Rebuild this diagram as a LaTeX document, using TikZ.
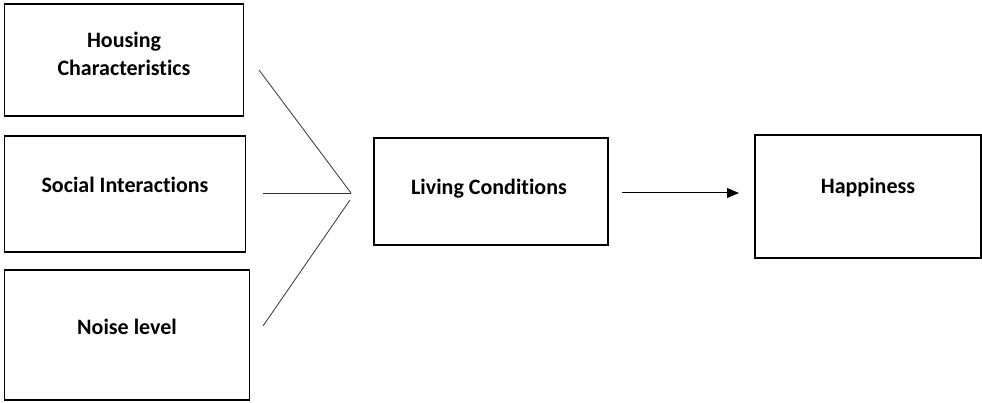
\documentclass[tikz,border=0pt]{standalone}
\usepackage{fontspec}
\setmainfont{Carlito}[Ligatures=CommonOff]
\usetikzlibrary{arrows.meta}
\begin{document}
\begin{tikzpicture}[x=1pt,y=-1pt,
  box/.style={draw, line width=1.8pt, inner sep=0pt},
  lbl/.style={font=\bfseries\fontsize{22}{28}\selectfont, align=center},
  conn/.style={line width=0.8pt, draw=black!80}]
\useasboundingbox (0,0) rectangle (982,403);
\node[box, minimum width=239pt, minimum height=112pt] (hc) at (124,60) {};
\node[box, minimum width=241pt, minimum height=116pt] (si) at (125,194) {};
\node[box, minimum width=245pt, minimum height=130pt] (nl) at (127,335) {};
\node[box, minimum width=234pt, minimum height=107pt] (lc) at (491,191.5) {};
\node[box, minimum width=226pt, minimum height=123pt] (hp) at (868,196.5) {};
\node[lbl] (t1) at (124,54) {Housing\\Characteristics};
\node[lbl] (t2) at (125,185) {Social Interactions};
\node[lbl] (t3) at (127,327) {Noise level};
\node[lbl] (t4) at (489,189) {Living Conditions};
\node[lbl] (t5) at (868,188) {Happiness};
\coordinate (a1) at (259,70);
\coordinate (j1) at (351,193);
\coordinate (a2) at (263,193);
\coordinate (j3) at (350,200);
\coordinate (a3) at (263,326);
\coordinate (b1) at (622,193);
\coordinate (b2) at (739,193);
\draw[conn] (a1) -- (j1);
\draw[conn] (a2) -- (j1);
\draw[conn] (j3) -- (a3);
\draw[line width=1pt, -{Triangle[length=12pt,width=10pt]}] (b1) -- (b2);
\end{tikzpicture}
\end{document}
